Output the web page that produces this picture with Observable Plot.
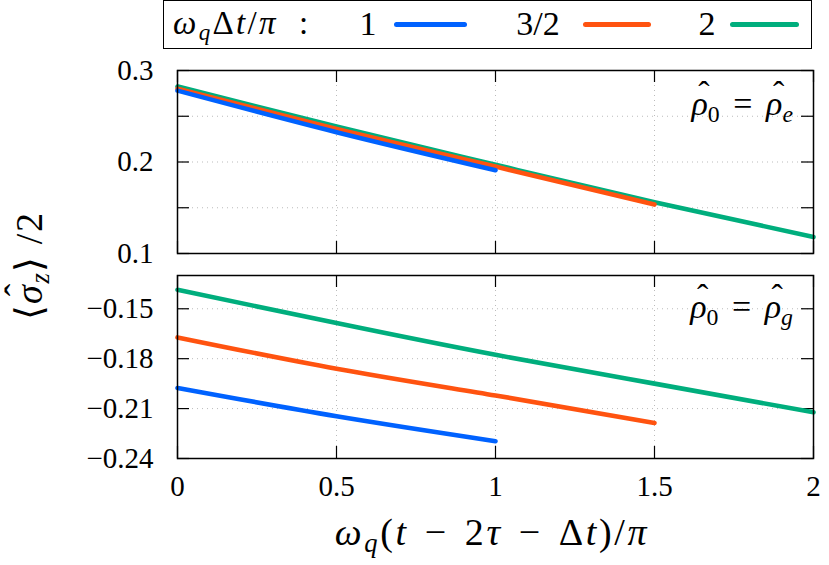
<!DOCTYPE html>
<html>
<head>
<meta charset="utf-8">
<script src="https://cdn.jsdelivr.net/npm/d3@7"></script>
<script src="https://cdn.jsdelivr.net/npm/@observablehq/plot@0.6"></script>
<style>
  html, body { margin: 0; padding: 0; background: #fff; }
  #wrap { position: relative; width: 829px; height: 565px; color: #000; overflow: hidden; }
  .abs { position: absolute; white-space: nowrap; line-height: 1; }
  .sub { font-size: 0.7em; position: relative; top: 0.28em; }
  .hat { position: relative; display: inline-block; font-style: italic; }
  .hat::before { content: "ˆ"; position: absolute; left: 0.2em; top: -0.3em; font-style: normal; }
  .op { margin: 0 0.4em; }
  svg { position: absolute; left: 0; overflow: visible; }
</style>
</head>
<body>
<div id="wrap"></div>
<script>
// ---- data ----
const seriesNames = ["1", "3/2", "2"];
const seriesColors = ["#0062ff", "#ff5310", "#00ae7d"];
const xValues = [0, 0.5, 1, 1.5, 2];

// panel rho0 = rho_e
const eBlue   = [0.278, 0.2326, 0.191];
const eOrange = [0.280, 0.236, 0.195, 0.1535];
const eGreen  = [0.2825, 0.2388, 0.197, 0.156, 0.118];

// panel rho0 = rho_g
const gBlue   = [-0.1976, -0.2146, -0.2296];
const gOrange = [-0.1672, -0.186, -0.2021, -0.2186];
const gGreen  = [-0.1386, -0.1586, -0.1777, -0.195, -0.2122];

const xTicks = [0, 0.5, 1, 1.5, 2];
const yTopTicks = [0.1, 0.15, 0.2, 0.25, 0.3];
const yTopLabels = [0.1, 0.2, 0.3];
const yBotTicks = [-0.24, -0.21, -0.18, -0.15];
const yTopDomain = [0.1, 0.3];
const yBotDomain = [-0.24, -0.13];

// ---- build tables ----
function rows(vals, name) { return vals.map((v, i) => ({x: xValues[i], y: v, s: name})); }
// drawing order: green, orange, blue (blue on top)
const topRows = [...rows(eGreen, "2"), ...rows(eOrange, "3/2"), ...rows(eBlue, "1")];
const botRows = [...rows(gGreen, "2"), ...rows(gOrange, "3/2"), ...rows(gBlue, "1")];

const W = 829, ML = 177, MR = 16;
const FW = W - ML - MR;
const TICK = 12;
const FONT = "'Liberation Serif', 'Times New Roman', Times, serif";

function panel({data, yDomain, yTicks, yLabels, yFmt, height, mt, mb, showX}) {
  const FH = height - mt - mb;
  const marks = [
    Plot.gridY(yTicks, {stroke: "#aaa", strokeOpacity: 0.8, strokeDasharray: "1,4", strokeWidth: 1}),
    Plot.gridX(xTicks, {stroke: "#aaa", strokeOpacity: 0.8, strokeDasharray: "1,4", strokeWidth: 1}),
    Plot.ruleY(yTicks, {insetRight: FW - TICK, stroke: "#000", strokeWidth: 1.2}),
    Plot.ruleY(yTicks, {insetLeft: FW - TICK, stroke: "#000", strokeWidth: 1.2}),
    Plot.ruleX(xTicks, {insetTop: FH - TICK, stroke: "#000", strokeWidth: 1.2}),
    Plot.ruleX(xTicks, {insetBottom: FH - TICK, stroke: "#000", strokeWidth: 1.2}),
    Plot.axisY(yLabels, {tickSize: 0, tickPadding: 24, tickFormat: yFmt, fontSize: 29, label: null}),
    Plot.line(data, {x: "x", y: "y", z: "s", stroke: "s", strokeWidth: 4.6, curve: "natural", strokeLinecap: "round"}),
    Plot.frame({stroke: "#000", strokeWidth: 1.5})
  ];
  if (showX) {
    marks.push(Plot.axisX(xTicks, {tickSize: 0, tickPadding: 17, tickFormat: d => String(d), fontSize: 29, label: null}));
  }
  const svg = Plot.plot({
    width: W, height,
    marginLeft: ML, marginRight: MR, marginTop: mt, marginBottom: mb,
    x: {domain: [0, 2], axis: showX ? undefined : null},
    y: {domain: yDomain},
    color: {domain: seriesNames, range: seriesColors},
    style: {fontFamily: FONT, background: "transparent", color: "#000", overflow: "visible"},
    marks
  });
  svg.setAttribute("font-family", FONT);
  d3.select(svg).selectAll("g, text").attr("font-family", FONT).style("font-family", FONT);
  return svg;
}

const wrap = document.getElementById("wrap");
wrap.style.fontFamily = FONT;

const topPanel = panel({data: topRows, yDomain: yTopDomain, yTicks: yTopTicks, yLabels: yTopLabels,
  yFmt: d3.format(".1f"), height: 214, mt: 20, mb: 11, showX: false});
topPanel.style.top = "50px";
wrap.appendChild(topPanel);

const botPanel = panel({data: botRows, yDomain: yBotDomain, yTicks: yBotTicks, yLabels: yBotTicks,
  yFmt: d3.format(".2f"), height: 301, mt: 11, mb: 107, showX: true});
botPanel.style.top = "264px";
wrap.appendChild(botPanel);

// ---- HTML text overlays ----
function addDiv(html, css) {
  const d = document.createElement("div");
  d.className = "abs";
  d.innerHTML = html;
  d.style.fontFamily = FONT;
  Object.assign(d.style, css);
  wrap.appendChild(d);
  return d;
}
const hat = ch => `<span class="hat">${ch}</span>`;

// legend box
const box = document.createElement("div");
Object.assign(box.style, {position: "absolute", left: "163px", top: "0px", width: "649px", height: "49px",
  border: "1.5px solid #000", boxSizing: "border-box"});
wrap.appendChild(box);

addDiv('<i>ω<span class="sub">q</span></i>Δ<i>t</i>/<i>π</i>&nbsp;&nbsp;:',
  {left: "173px", top: "7px", fontSize: "33px", letterSpacing: "0.07em"});
const legX = [368, 538, 707];
const legLine = [[394, 467], [583, 651], [730, 799]];
seriesNames.forEach((n, i) => {
  addDiv(n, {left: legX[i] + "px", top: "7px", fontSize: "34px", transform: "translateX(-50%)"});
  const sw = document.createElement("div");
  Object.assign(sw.style, {position: "absolute", left: legLine[i][0] + "px", top: "22px",
    width: (legLine[i][1] - legLine[i][0]) + "px", height: "5px", borderRadius: "2.5px", background: seriesColors[i]});
  wrap.appendChild(sw);
});

// panel annotations
addDiv(hat("ρ") + '<span class="sub">0</span><span class="op">=</span>' + hat("ρ") + '<span class="sub"><i>e</i></span>',
  {right: (829 - 793) + "px", top: (116 - 29) + "px", fontSize: "34px"});
addDiv(hat("ρ") + '<span class="sub">0</span><span class="op">=</span>' + hat("ρ") + '<span class="sub"><i>g</i></span>',
  {right: (829 - 793) + "px", top: (319 - 29) + "px", fontSize: "34px"});

// axis titles
addDiv('⟨' + hat("σ") + '<span class="sub"><i>z</i></span>⟩ /2',
  {left: "29px", top: "266px", fontSize: "38px", letterSpacing: "0.04em", transform: "translate(-50%,-50%) rotate(-90deg)"});
addDiv('<i>ω<span class="sub">q</span></i>(<i>t</i><span class="op" style="margin:0 0.42em">−</span>2<i>τ</i><span class="op" style="margin:0 0.42em">−</span>Δ<i>t</i>)/<i>π</i>',
  {left: "492px", top: "532px", fontSize: "38px", letterSpacing: "0.07em", transform: "translate(-50%,-50%)"});
</script>
</body>
</html>
